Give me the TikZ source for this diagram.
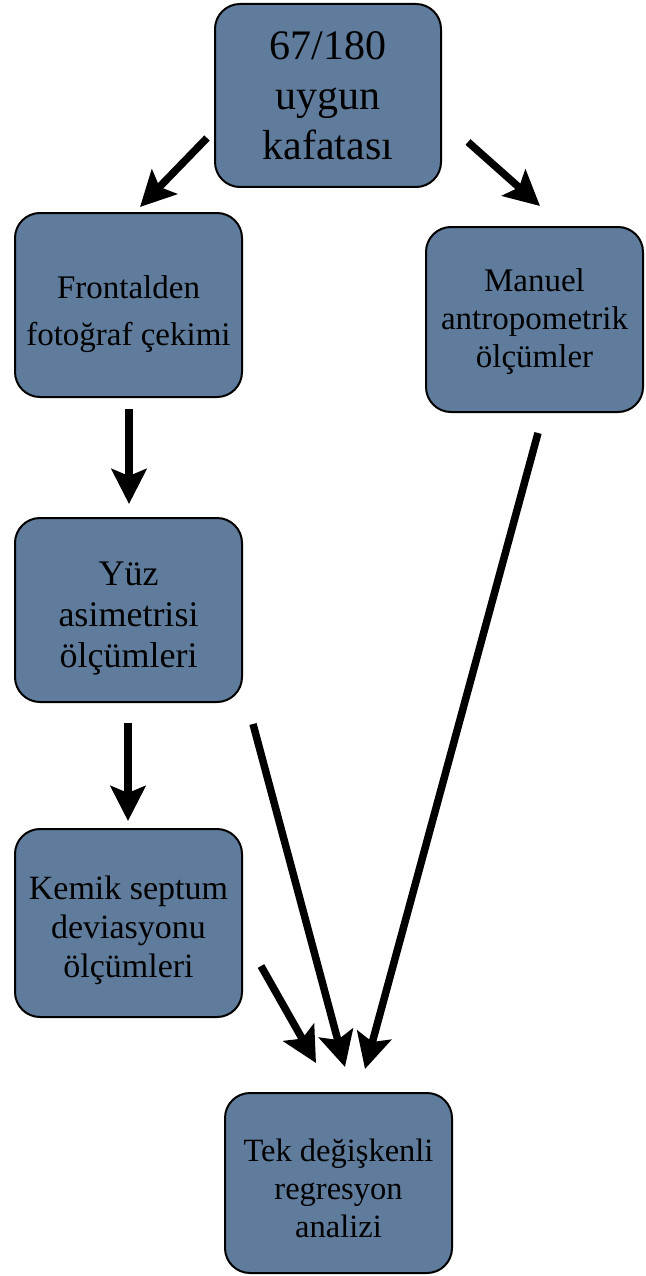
\documentclass[tikz,border=0pt]{standalone}
\usepackage{fontspec}
\setmainfont{Liberation Serif}
\usetikzlibrary{arrows.meta,calc}
\definecolor{boxblue}{RGB}{95,124,156}
\tikzset{
  stepbox/.style={draw=black, line width=2pt, fill=boxblue, rounded corners=25pt,
    align=center, inner sep=0pt, text=black},
  arr/.style={line width=7.5pt, -{Stealth[length=35pt,width=35pt,inset=7pt]}}
}
\begin{document}
\begin{tikzpicture}[x=1pt,y=-1pt]
\useasboundingbox (0,0) rectangle (645,1276);
\node[stepbox, minimum width=226pt, minimum height=183pt,
      font=\fontsize{42}{50}\selectfont] (top) at (328,95.5) {67/180\\uygun\\kafatası};
\node[stepbox, minimum width=227pt, minimum height=184pt,
      font=\fontsize{33}{47}\selectfont] (front) at (128.5,305) {\rule{0pt}{41pt}Frontalden\\fotoğraf çekimi};
\node[stepbox, minimum width=217pt, minimum height=185pt,
      font=\fontsize{33}{38}\selectfont] (man) at (534.5,319.5) {\rule{0pt}{26.5pt}Manuel\\antropometrik\\ölçümler};
\node[stepbox, minimum width=227pt, minimum height=184pt,
      font=\fontsize{36}{41}\selectfont] (yuz) at (128.5,610) {\rule{0pt}{40pt}Yüz\\asimetrisi\\ölçümleri};
\node[stepbox, minimum width=227pt, minimum height=188pt,
      font=\fontsize{34}{39}\selectfont] (kem) at (128.5,923) {\rule{0pt}{39pt}Kemik septum\\deviasyonu\\ölçümleri};
\node[stepbox, minimum width=227pt, minimum height=180pt,
      font=\fontsize{32.5}{38}\selectfont] (tek) at (338.5,1183) {\rule{0pt}{34pt}Tek değişkenli\\regresyon\\analizi};

\draw[arr] ($(top.west)+(-7,42.5)$) -- ($(front.north)+(11.5,-5)$);
\draw[arr] ($(top.east)+(26,46.5)$) -- ($(man.north)+(5.5,-20)$);
\draw[arr] ($(front.south)+(0.5,11)$) -- ($(yuz.north)+(0.5,-13)$);
\draw[arr] ($(yuz.south)+(-0.5,20)$) -- ($(kem.north)+(-0.5,-7)$);
\draw[arr] ($(yuz.south)+(124.5,21)$) -- ($(tek.north)+(6.5,-25)$);
\draw[arr] ($(man.south)+(3.5,20)$) -- ($(tek.north)+(26.5,-23)$);
\draw[arr] ($(kem.east)+(18,43)$) -- ($(tek.north)+(-22.5,-29)$);
\end{tikzpicture}
\end{document}
